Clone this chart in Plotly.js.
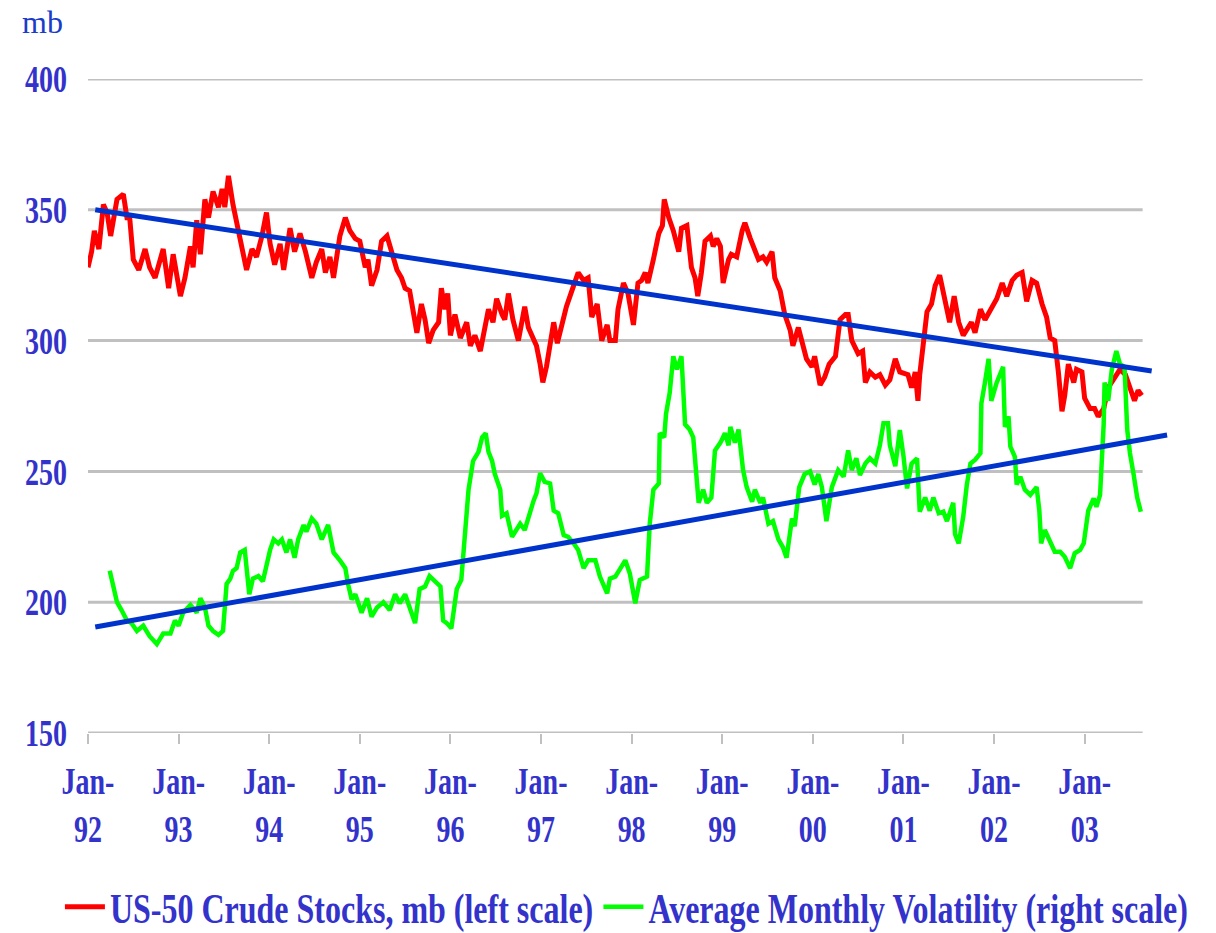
<!DOCTYPE html>
<html>
<head>
<meta charset="utf-8">
<script src="https://cdn.plot.ly/plotly-3.0.1.min.js"></script>
<style>html,body{margin:0;padding:0;background:#fff;}#chart{width:1216px;height:933px;}</style>
</head>
<body>
<div id="chart"></div>
<script>
// US-50 crude stocks, mb (left scale) — time in decimal years
const stocksT = [1992.00,1992.04,1992.07,1992.12,1992.17,1992.21,1992.25,1992.32,1992.39,1992.43,1992.46,1992.50,1992.56,1992.63,1992.68,1992.74,1992.83,1992.89,1992.94,1993.02,1993.07,1993.13,1993.16,1993.20,1993.24,1993.29,1993.33,1993.38,1993.44,1993.48,1993.51,1993.55,1993.60,1993.68,1993.75,1993.81,1993.86,1993.92,1993.97,1994.01,1994.06,1994.12,1994.16,1994.23,1994.28,1994.34,1994.40,1994.47,1994.52,1994.58,1994.62,1994.67,1994.71,1994.78,1994.84,1994.89,1994.95,1995.00,1995.06,1995.09,1995.13,1995.19,1995.24,1995.30,1995.35,1995.41,1995.46,1995.50,1995.55,1995.59,1995.63,1995.68,1995.72,1995.76,1995.81,1995.87,1995.90,1995.94,1995.97,1996.00,1996.05,1996.11,1996.18,1996.22,1996.27,1996.33,1996.38,1996.42,1996.47,1996.51,1996.57,1996.60,1996.64,1996.69,1996.75,1996.82,1996.86,1996.90,1996.95,1996.99,1997.02,1997.06,1997.10,1997.14,1997.18,1997.23,1997.28,1997.34,1997.41,1997.47,1997.52,1997.56,1997.62,1997.67,1997.73,1997.76,1997.82,1997.85,1997.91,1997.96,1998.02,1998.07,1998.11,1998.15,1998.18,1998.24,1998.30,1998.34,1998.36,1998.41,1998.46,1998.52,1998.55,1998.61,1998.66,1998.70,1998.73,1998.77,1998.81,1998.87,1998.90,1998.94,1998.98,1999.01,1999.07,1999.10,1999.16,1999.22,1999.25,1999.31,1999.36,1999.40,1999.45,1999.49,1999.55,1999.58,1999.64,1999.69,1999.75,1999.78,1999.84,1999.88,1999.93,1999.99,2000.02,2000.08,2000.13,2000.18,2000.25,2000.30,2000.36,2000.39,2000.43,2000.50,2000.55,2000.58,2000.63,2000.69,2000.74,2000.80,2000.85,2000.91,2000.96,2001.05,2001.09,2001.13,2001.16,2001.18,2001.22,2001.26,2001.31,2001.35,2001.40,2001.46,2001.51,2001.56,2001.61,2001.66,2001.75,2001.79,2001.85,2001.90,2001.97,2002.03,2002.09,2002.14,2002.20,2002.25,2002.31,2002.36,2002.42,2002.47,2002.53,2002.58,2002.62,2002.67,2002.71,2002.75,2002.78,2002.82,2002.88,2002.91,2002.97,2003.00,2003.06,2003.11,2003.15,2003.21,2003.26,2003.34,2003.39,2003.45,2003.50,2003.55,2003.59,2003.63];
const stocksV = [328,334,342,335,352,349,340,354,356,347,347,331,327,335,328,324,335,320,333,317,324,336,328,346,333,354,347,357,351,358,351,363,352,338,327,335,332,340,349,337,329,337,327,343,334,341,334,324,330,335,326,332,324,340,347,342,339,338,328,331,321,327,338,340,334,327,324,320,319,311,303,314,308,299,304,307,320,312,318,302,310,301,307,298,302,296,304,312,307,316,310,308,318,308,300,313,305,302,298,291,284,290,300,307,299,307,313,319,326,323,324,309,314,300,306,300,300,312,322,318,306,322,323,326,322,331,341,344,354,347,342,334,343,344,328,324,317,326,338,340,336,339,336,322,331,333,332,342,345,339,335,331,332,330,334,324,319,310,304,298,305,300,293,290,294,283,286,291,294,308,310,310,300,295,296,284,288,286,287,283,285,293,288,287,282,288,277,287,301,311,314,321,325,316,307,317,307,302,307,303,312,308,312,316,322,317,323,325,326,315,323,322,314,309,301,300,288,273,279,291,284,289,288,278,274,274,271,274,282,286,289,287,282,277,281,279];

// Average monthly volatility (right scale)
const volT = [1992.24,1992.28,1992.32,1992.37,1992.43,1992.48,1992.54,1992.61,1992.68,1992.76,1992.83,1992.91,1992.96,1993.00,1993.05,1993.13,1993.20,1993.24,1993.29,1993.33,1993.38,1993.44,1993.49,1993.53,1993.57,1993.60,1993.64,1993.68,1993.73,1993.78,1993.82,1993.88,1993.93,1993.97,1994.01,1994.05,1994.10,1994.14,1994.19,1994.23,1994.28,1994.32,1994.38,1994.41,1994.47,1994.52,1994.58,1994.65,1994.71,1994.78,1994.84,1994.87,1994.91,1994.95,1995.02,1995.08,1995.13,1995.19,1995.26,1995.33,1995.39,1995.44,1995.50,1995.55,1995.61,1995.66,1995.72,1995.77,1995.83,1995.89,1995.92,1995.96,1996.01,1996.07,1996.12,1996.16,1996.20,1996.25,1996.31,1996.35,1996.39,1996.42,1996.46,1996.49,1996.55,1996.57,1996.62,1996.68,1996.73,1996.77,1996.82,1996.88,1996.92,1996.95,1996.99,1997.04,1997.10,1997.14,1997.19,1997.25,1997.30,1997.36,1997.41,1997.47,1997.52,1997.60,1997.65,1997.73,1997.76,1997.82,1997.87,1997.93,1997.98,1998.04,1998.09,1998.17,1998.20,1998.24,1998.30,1998.31,1998.36,1998.38,1998.42,1998.46,1998.50,1998.55,1998.59,1998.64,1998.68,1998.74,1998.79,1998.83,1998.88,1998.92,1998.98,1999.03,1999.07,1999.09,1999.14,1999.18,1999.23,1999.27,1999.33,1999.36,1999.42,1999.45,1999.51,1999.56,1999.62,1999.67,1999.71,1999.77,1999.80,1999.85,1999.91,1999.97,2000.02,2000.06,2000.10,2000.15,2000.21,2000.28,2000.34,2000.39,2000.43,2000.48,2000.52,2000.58,2000.63,2000.69,2000.74,2000.78,2000.83,2000.85,2000.91,2000.94,2000.96,2001.00,2001.04,2001.09,2001.15,2001.18,2001.24,2001.29,2001.33,2001.39,2001.44,2001.48,2001.55,2001.57,2001.61,2001.66,2001.70,2001.74,2001.79,2001.85,2001.86,2001.90,2001.94,2001.97,2002.03,2002.10,2002.12,2002.16,2002.18,2002.23,2002.25,2002.29,2002.34,2002.40,2002.47,2002.50,2002.52,2002.56,2002.62,2002.67,2002.73,2002.78,2002.84,2002.89,2002.95,2002.99,2003.02,2003.04,2003.10,2003.13,2003.17,2003.19,2003.21,2003.22,2003.26,2003.30,2003.35,2003.39,2003.44,2003.47,2003.50,2003.54,2003.58,2003.62];
const volV = [212,206,200,197,193,192,189,191,187,184,188,188,193,191,196,199,196,201.5,198,191,189,187.5,189,207,209,212,213,219,220,203,209,210,208,214,220,224,222.5,224,219,224,217,224,229.5,227,232,230,224,229.5,219,216,213,207,201,203,196,201.5,194.5,198,200,197,203,199.6,203,198,192,205,206,210,208,206,193,192,190,205,208.5,227.6,243,254,257.5,263,264.6,257.5,254,249,243,233,234,225,227.6,230,227.6,235,239,241.6,249.3,246,245.4,235,234,225.7,225,222.5,220,213,216,216,209.8,203.4,209,209.8,213,216,211,199.6,208.5,209.8,230,243,245.4,264.6,263,272,280,294,289,294,268,266,263,238,243,238,240,258,261,264.6,260,267,261,266,250.5,244,238.4,243,238,240,230,231,224,221,217,232,229,244,249,250,245,249,244,231,244,250.5,248,258,250.5,255,248.6,253,255,253,260,268.4,268.4,260,252,260.7,265.8,256,243.5,253,255,234.6,240,235,240,234,234.6,231,238,226,222.5,232.7,245,253,254.4,257,276,284,293,277,284,290,267,271,259.5,255.6,245,248,243,241,244,235,222.5,227.6,222.5,219.3,219.3,217.4,213,218.7,220,222.5,230,235,239.7,236.5,241,253,268,284,277,289,296,291,290,266,257,249,240,234.6];

// Trend lines (end points)
const stocksTrendT = [1992.08, 2003.74];
const stocksTrendV = [350, 288.4];
const volTrendT = [1992.08, 2003.91];
const volTrendV = [190.5, 263.9];

// Axis labels
const yearTicks = [1992,1993,1994,1995,1996,1997,1998,1999,2000,2001,2002,2003];
const monthLabels = yearTicks.map(() => 'Jan-');
const yearLabels = ['92','93','94','95','96','97','98','99','00','01','02','03'];
const yTicks = [150,200,250,300,350,400];
const gridLevels = [200,250,300,350,400];

const labelColor = '#3333cc';
const serif = 'Liberation Serif, Times New Roman, serif';
const xRange = [1992, 2003.92];
const xEnd = 2003.64;

const traces = [
  {x: stocksT, y: stocksV, type: 'scatter', mode: 'lines', name: 'US-50 Crude Stocks, mb (left scale)',
   line: {color: '#ff0000', width: 5}, xaxis: 'x', yaxis: 'y'},
  {x: stocksTrendT, y: stocksTrendV, type: 'scatter', mode: 'lines', showlegend: false,
   line: {color: '#0033cc', width: 5}, xaxis: 'x2', yaxis: 'y'},
  {x: volT, y: volV, type: 'scatter', mode: 'lines', name: 'Average Monthly Volatility (right scale)',
   line: {color: '#00ff00', width: 4.5}, xaxis: 'x', yaxis: 'y2'},
  {x: volTrendT, y: volTrendV, type: 'scatter', mode: 'lines', showlegend: false,
   line: {color: '#0033cc', width: 5}, xaxis: 'x', yaxis: 'y2'}
];

const shapes = gridLevels.map(v => ({
  type: 'line', xref: 'x', yref: 'y', x0: xRange[0], x1: xEnd, y0: v, y1: v,
  line: {color: '#c0c0c0', width: 3}, layer: 'below'
}));
shapes.push({type: 'line', xref: 'x', yref: 'y', x0: xRange[0], x1: xEnd, y0: 150, y1: 150,
  line: {color: '#c0c0c0', width: 3}, layer: 'below'});

const tickFont = {family: serif, size: 28, color: labelColor, weight: 'bold'};

const layout = {
  width: 1216, height: 933,
  margin: {l: 88, r: 48, t: 79, b: 200, autoexpand: false},
  paper_bgcolor: '#ffffff', plot_bgcolor: '#ffffff',
  showlegend: true,
  legend: {orientation: 'h', xref: 'paper', yref: 'paper', x: -0.026, xanchor: 'left',
    y: -0.266, yanchor: 'middle', itemwidth: 40, tracegroupgap: 0,
    font: {family: serif, size: 32, color: labelColor, weight: 'bold'}},
  xaxis: {range: xRange, tickmode: 'array', tickvals: yearTicks, ticktext: monthLabels,
    ticks: 'outside', ticklen: 10, tickwidth: 2, tickcolor: '#c0c0c0', showgrid: false, zeroline: false,
    showline: false, ticklabelstandoff: 13, tickfont: tickFont},
  xaxis2: {range: xRange, overlaying: 'x', anchor: 'y', side: 'bottom', tickmode: 'array',
    tickvals: yearTicks, ticktext: yearLabels, ticks: '', showgrid: false, zeroline: false, showline: false,
    ticklabelstandoff: 77, tickfont: tickFont},
  yaxis: {range: [150, 400], tickmode: 'array', tickvals: yTicks, showgrid: false, zeroline: false,
    showline: false, ticks: '', ticklabelstandoff: 20, tickfont: tickFont},
  yaxis2: {range: [150, 400], overlaying: 'y', side: 'right', visible: false, showgrid: false, zeroline: false},
  shapes: shapes,
  annotations: [{text: 'mb', xref: 'paper', yref: 'paper', x: -0.063, y: 1.087, xanchor: 'left', yanchor: 'middle',
    showarrow: false, font: {family: serif, size: 32, color: '#1a3cc8'}}]
};

// Stretch the bold labels vertically so they look tall and narrow, like the original
function stretchText(root, k) {
  root.querySelectorAll('.xtick text, .x2tick text, .ytick text, .legendtext').forEach(el => {
    const bb = el.getBBox();
    const cy = bb.y + bb.height / 2;
    const prev = el.getAttribute('transform') || '';
    el.setAttribute('transform', prev + ' translate(0,' + cy + ') scale(1,' + k + ') translate(0,' + (-cy) + ')');
  });
}

Plotly.newPlot('chart', traces, layout, {staticPlot: true, displayModeBar: false}).then(gd => {
  stretchText(gd, 1.35);
});
</script>
</body>
</html>
